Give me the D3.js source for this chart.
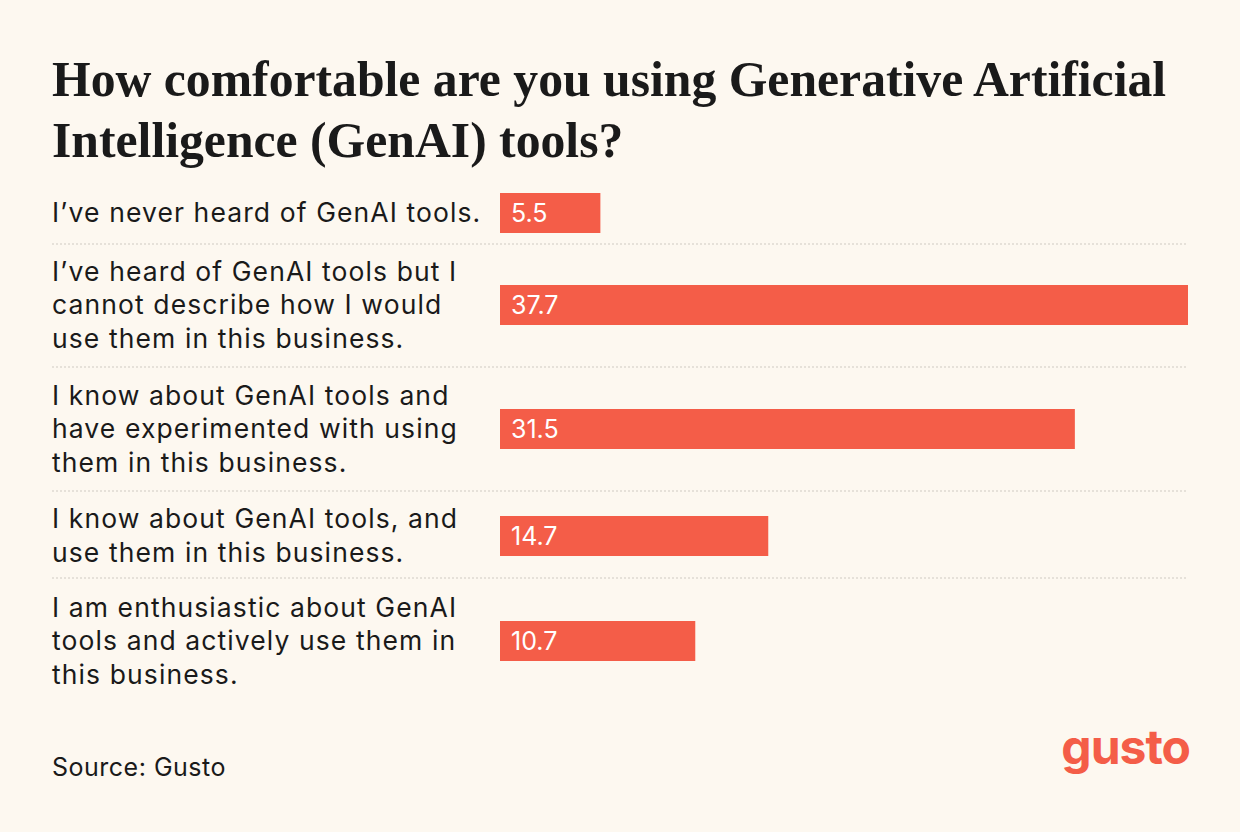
<!DOCTYPE html><html><head><meta charset="utf-8"><script src="https://d3js.org/d3.v7.min.js"></script>
<style>body{margin:0;background:#FDF8F0}</style></head><body><svg id="c" width="1240" height="832"></svg>
<script>
const categories=[["I’ve never heard of GenAI tools."],["I’ve heard of GenAI tools but I","cannot describe how I would","use them in this business."],["I know about GenAI tools and","have experimented with using","them in this business."],["I know about GenAI tools, and","use them in this business."],["I am enthusiastic about GenAI","tools and actively use them in","this business."]];
const values=[5.5,37.7,31.5,14.7,10.7];
const centers=[213,305,429,536,641];
const dividers=[244,367,491,578];
const svg=d3.select("#c");
svg.append("rect").attr("width",1240).attr("height",832).attr("fill","#FDF8F0");
const t=svg.append("text").attr("font-family","Liberation Serif, serif").attr("font-weight",700).attr("font-size",49.7).attr("fill","#1a1a1a");
t.append("tspan").attr("x",52).attr("y",96).text("How comfortable are you using Generative Artificial");
t.append("tspan").attr("x",52).attr("y",157).text("Intelligence (GenAI) tools?");
const x=d3.scaleLinear().domain([0,37.7]).range([500,1188]);
dividers.forEach(y=>svg.append("line").attr("x1",52).attr("x2",1188).attr("y1",y).attr("y2",y).attr("stroke","#cfcac2").attr("stroke-dasharray","2,2"));
values.forEach((v,i)=>{
 const c=centers[i];
 svg.append("rect").attr("x",x(0)).attr("y",c-20).attr("width",x(v)-x(0)).attr("height",40).attr("fill","#F45D48");
 svg.append("text").attr("x",x(0)+11).attr("y",c+9).attr("fill","#fff").attr("font-family","Inter, sans-serif").attr("font-size",25).text(v);
 const L=categories[i];
 L.forEach((s,j)=>svg.append("text").attr("x",52).attr("y",c+9+(j-(L.length-1)/2)*33.5).attr("fill","#1a1a1a").attr("font-family","Inter, sans-serif").attr("font-size",26.5).attr("letter-spacing",1.1).text(s));
});
svg.append("text").attr("x",52).attr("y",776).attr("font-family","Inter, sans-serif").attr("font-size",25).attr("letter-spacing",0.5).attr("fill","#1a1a1a").text("Source: Gusto");
svg.append("text").attr("x",1190).attr("y",764).attr("text-anchor","end").attr("font-family","Inter, sans-serif").attr("font-weight",700).attr("font-size",48).attr("letter-spacing",-1).attr("fill","#F45D48").text("gusto");
</script></body></html>
